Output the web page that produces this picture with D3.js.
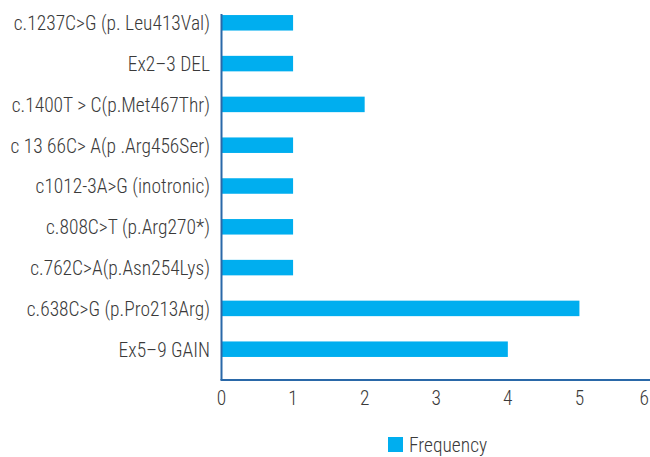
<!DOCTYPE html>
<html>
<head>
<meta charset="utf-8">
<script src="https://cdn.jsdelivr.net/npm/d3@7"></script>
<style>
  html, body { margin: 0; padding: 0; background: #fff; }
  svg { display: block; }
  text { font-family: "Liberation Sans Narrow", "Roboto Condensed", "Roboto", sans-serif; fill: #3a3a3a; font-size: 20.5px; font-weight: 300; }
</style>
</head>
<body>
<svg id="chart" width="650" height="457"></svg>
<script>
// Variant labels, top to bottom
const variants = [
  "c.1237C>G (p. Leu413Val)",
  "Ex2\u20133 DEL",
  "c.1400T > C(p.Met467Thr)",
  "c 13 66C> A(p .Arg456Ser)",
  "c1012-3A>G (inotronic)",
  "c.808C>T (p.Arg270*)",
  "c.762C>A(p.Asn254Lys)",
  "c.638C>G (p.Pro213Arg)",
  "Ex5\u20139 GAIN"
];
// Frequency of each variant
const frequency = [1, 1, 2, 1, 1, 1, 1, 5, 4];
const xTicks = [0, 1, 2, 3, 4, 5, 6];
const seriesName = "Frequency";

const svg = d3.select("#chart");
const barColor = "#00aeef";
const axisColor = "#2a68a8";
const squeeze = 0.95; // narrow the type horizontally

const x = d3.scaleLinear().domain([0, 6]).range([221.5, 651]);
const y = d3.scaleBand().domain(variants).range([2.4, 369.6]).paddingInner(0.62).paddingOuter(0.31);

// bars
svg.append("g").selectAll("rect")
  .data(variants.map((v, i) => ({ v, f: frequency[i] })))
  .join("rect")
  .attr("x", x(0))
  .attr("y", d => y(d.v))
  .attr("width", d => x(d.f) - x(0))
  .attr("height", y.bandwidth())
  .attr("fill", barColor);

// category labels
svg.append("g").selectAll("text")
  .data(variants)
  .join("text")
  .attr("transform", d => `translate(210,${y(d) + y.bandwidth() / 2}) scale(${squeeze},1)`)
  .attr("dy", "0.36em")
  .attr("text-anchor", "end")
  .text(d => d);

// axis frame: left and bottom lines
const axisY = 380;
svg.append("line")
  .attr("x1", x(0)).attr("x2", x(0))
  .attr("y1", 14).attr("y2", axisY)
  .attr("stroke", axisColor).attr("stroke-width", 2);
svg.append("line")
  .attr("x1", x(0) - 1).attr("x2", 650)
  .attr("y1", axisY).attr("y2", axisY)
  .attr("stroke", axisColor).attr("stroke-width", 2);

// x tick labels
svg.append("g").selectAll("text")
  .data(xTicks)
  .join("text")
  .attr("transform", d => `translate(${d === 6 ? 649 : x(d)},398) scale(${squeeze},1)`)
  .attr("dy", "0.36em")
  .attr("text-anchor", d => d === 6 ? "end" : "middle")
  .text(d => d);

// legend
const lg = svg.append("g").attr("transform", "translate(388,437)");
lg.append("rect").attr("width", 15).attr("height", 15).attr("fill", barColor);
lg.append("text").attr("transform", `translate(21,8) scale(${squeeze},1)`).attr("dy", "0.36em")
  .text(seriesName);
</script>
</body>
</html>
